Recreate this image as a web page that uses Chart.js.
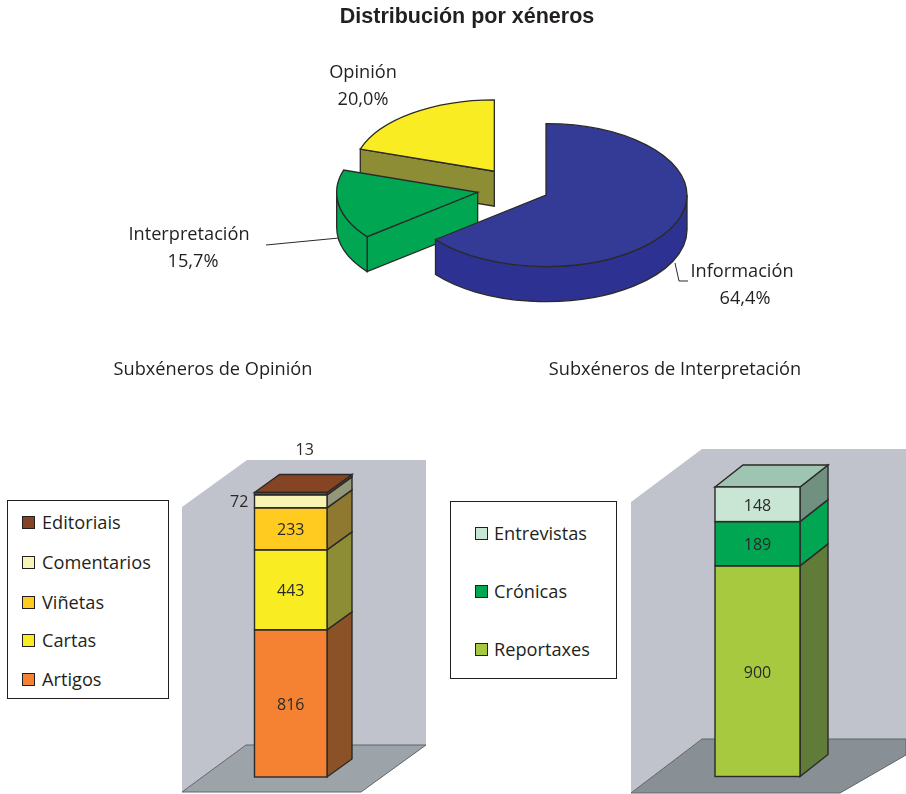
<!DOCTYPE html>
<html>
<head>
<meta charset="utf-8">
<title>Distribución por xéneros</title>
<script src="https://cdn.jsdelivr.net/npm/chart.js@4"></script>
<style>
  html, body { margin: 0; padding: 0; background: #fff; overflow: hidden; }
  #page { position: relative; width: 906px; height: 794px; color: #231f20; font-family: "Open Sans", sans-serif; font-size: 18.2px; }
  canvas { position: absolute; left: 0; top: 0; }
  .txt { position: absolute; white-space: nowrap; line-height: 27px; }
  .center { transform: translateX(-50%); text-align: center; }
  .share { position: relative; }
  #title { left: 467px; top: 2px; font: bold 21.5px "Liberation Sans", sans-serif; line-height: 28px; }
  .legend { position: absolute; box-sizing: border-box; background: #fff; border: 1px solid #231f20; }
  .swatch { position: absolute; width: 11px; height: 11px; border: 1px solid #231f20; }
</style>
</head>
<body>
<div id="page">
  <canvas id="pieChart" width="906" height="794"></canvas>
  <canvas id="opinionChart" width="906" height="794"></canvas>
  <canvas id="interpChart" width="906" height="794"></canvas>
  <div id="title" class="txt center">Distribución por xéneros</div>
  <div class="txt center" style="left:213px;top:355px">Subxéneros de Opinión</div>
  <div class="txt center" style="left:675px;top:355px">Subxéneros de Interpretación</div>
</div>
<script>
const pieLabels = ["Información", "Interpretación", "Opinión"];
const pieValues = [64.4, 15.7, 20.0];
const pieColors = ["#333b96", "#00a651", "#f9ec23"];
const pieWallColors = ["#2d3191", "#00a651", "#8d8d35"];
// how far each slice is pulled out of the pie
const pieShift = [30, 42, 42];

const opinionLabels = ["Artigos", "Cartas", "Viñetas", "Comentarios", "Editoriais"];
const opinionValues = [816, 443, 233, 72, 13];
const opinionColors = ["#f58233", "#f9ec23", "#ffcb21", "#f8f4b5", "#854524"];
const opinionSides = ["#8b5127", "#8d8d35", "#8f7830", "#92977a", "#854524"];

const interpLabels = ["Reportaxes", "Crónicas", "Entrevistas"];
const interpValues = [900, 189, 148];
const interpColors = ["#a6c93f", "#00a651", "#c9e6d5"];
const interpSides = ["#607c38", "#00a651", "#709080"];

const lineColor = "#2b2a29";
const page = document.getElementById("page");

// flattening of the pie and height of its rim
const pieTilt = 0.507;
const pieDepth = 35;

function polygon(ctx, points, fill, stroke, width) {
  ctx.beginPath();
  points.forEach((p, i) => (i ? ctx.lineTo(p[0], p[1]) : ctx.moveTo(p[0], p[1])));
  ctx.closePath();
  if (fill) {
    ctx.fillStyle = fill;
    ctx.fill();
  }
  if (stroke) {
    ctx.strokeStyle = stroke;
    ctx.lineWidth = width;
    ctx.stroke();
  }
}

function pieCenter(chart) {
  const area = chart.chartArea;
  return { x: (area.left + area.right) / 2, y: (area.top + area.bottom) / 2 };
}

function sliceGeometry(chart, arc) {
  const c = pieCenter(chart);
  return {
    x: arc.x,
    y: c.y + (arc.y - c.y) * pieTilt,
    r: arc.outerRadius,
    start: arc.startAngle,
    end: arc.endAngle,
  };
}

const pie3d = {
  id: "pie3d",
  afterDatasetsUpdate(chart) {
    chart.getDatasetMeta(0).data.forEach((arc, i) => {
      const half = (arc.startAngle + arc.endAngle) / 2;
      arc.x += Math.cos(half) * pieShift[i];
      arc.y += Math.sin(half) * pieShift[i];
    });
  },
  beforeDatasetsDraw(chart) {
    const ctx = chart.ctx;
    const arcs = chart.getDatasetMeta(0).data;
    // back slices first
    for (let i = arcs.length - 1; i >= 0; i--) {
      const s = sliceGeometry(chart, arcs[i]);
      const rimX = s.x + Math.cos(s.start) * s.r;
      const rimY = s.y + Math.sin(s.start) * s.r * pieTilt;
      if (Math.sin(s.start - Math.PI / 2) > 0.01) {
        polygon(ctx, [[s.x, s.y], [rimX, rimY], [rimX, rimY + pieDepth], [s.x, s.y + pieDepth]],
          pieWallColors[i], lineColor, 1.3);
      }
      const a0 = Math.max(s.start, 0);
      const a1 = Math.min(s.end, Math.PI);
      if (a1 > a0) {
        ctx.beginPath();
        ctx.ellipse(s.x, s.y, s.r, s.r * pieTilt, 0, a0, a1);
        ctx.ellipse(s.x, s.y + pieDepth, s.r, s.r * pieTilt, 0, a1, a0, true);
        ctx.closePath();
        ctx.fillStyle = pieWallColors[i];
        ctx.fill();
        ctx.strokeStyle = lineColor;
        ctx.lineWidth = 1.3;
        ctx.stroke();
      }
    }
    // the library draws the slices inside this squeezed space
    const c = pieCenter(chart);
    ctx.save();
    ctx.translate(c.x, c.y);
    ctx.scale(1, pieTilt);
    ctx.translate(-c.x, -c.y);
  },
  afterDatasetsDraw(chart) {
    const ctx = chart.ctx;
    ctx.restore();
    chart.getDatasetMeta(0).data.forEach((arc) => {
      const s = sliceGeometry(chart, arc);
      ctx.beginPath();
      ctx.moveTo(s.x, s.y);
      ctx.ellipse(s.x, s.y, s.r, s.r * pieTilt, 0, s.start, s.end);
      ctx.closePath();
      ctx.strokeStyle = lineColor;
      ctx.lineWidth = 1.3;
      ctx.stroke();
    });
    // leader lines
    ctx.strokeStyle = lineColor;
    ctx.lineWidth = 1;
    ctx.beginPath();
    ctx.moveTo(266, 245);
    ctx.lineTo(339, 238);
    ctx.moveTo(675, 263);
    ctx.lineTo(679, 281);
    ctx.lineTo(688, 281);
    ctx.stroke();
  },
};

new Chart(document.getElementById("pieChart"), {
  type: "pie",
  data: {
    labels: pieLabels,
    datasets: [
      {
        data: pieValues,
        backgroundColor: pieColors,
        borderWidth: 0,
        radius: 141,
        clip: false,
      },
    ],
  },
  options: {
    responsive: false,
    animation: false,
    layout: { padding: { left: 132, right: 0, top: 0, bottom: 417 } },
    plugins: { legend: { display: false }, tooltip: { enabled: false } },
  },
  plugins: [pie3d],
});

const bar3d = {
  id: "bar3d",
  beforeDatasetsDraw(chart, args, opts) {
    const ctx = chart.ctx;
    polygon(ctx, opts.wall, "#c0c3cb");
    polygon(ctx, opts.floor, opts.floorColor, "#5f6468", 1);
    chart.data.datasets.forEach((ds, i) => {
      const bar = chart.getDatasetMeta(i).data[0];
      const right = bar.x + bar.width / 2;
      polygon(ctx, [[right, bar.y], [right + opts.dx, bar.y - opts.dy], [right + opts.dx, bar.base - opts.dy], [right, bar.base]],
        opts.sides[i], lineColor, 1.4);
    });
    const last = chart.getDatasetMeta(chart.data.datasets.length - 1).data[0];
    const left = last.x - last.width / 2;
    const right = last.x + last.width / 2;
    polygon(ctx, [[left, last.y], [left + opts.dx, last.y - opts.dy], [right + opts.dx, last.y - opts.dy], [right, last.y]],
      opts.topColor, lineColor, 1.4);
  },
  afterDatasetsDraw(chart, args, opts) {
    const ctx = chart.ctx;
    ctx.font = '16px "Open Sans", sans-serif';
    ctx.textAlign = "center";
    ctx.textBaseline = "middle";
    chart.data.datasets.forEach((ds, i) => {
      const bar = chart.getDatasetMeta(i).data[0];
      const left = bar.x - bar.width / 2;
      ctx.strokeStyle = lineColor;
      ctx.lineWidth = 1.4;
      ctx.strokeRect(left, bar.y, bar.width, bar.base - bar.y);
      const nudge = (opts.labelNudge && opts.labelNudge[i]) || [0, 2];
      ctx.fillStyle = lineColor;
      ctx.fillText(ds.data[0], bar.x + nudge[0], (bar.y + bar.base) / 2 + nudge[1]);
    });
  },
};

function sum(values) {
  return values.reduce((a, b) => a + b, 0);
}

function stackedBar(id, labels, values, colors, padding, frame) {
  new Chart(document.getElementById(id), {
    type: "bar",
    data: {
      labels: [""],
      datasets: labels.map((label, i) => ({
        label: label,
        data: [values[i]],
        backgroundColor: colors[i],
        borderWidth: 0,
        barPercentage: 1,
        categoryPercentage: 1,
      })),
    },
    options: {
      responsive: false,
      animation: false,
      layout: { padding: padding },
      scales: {
        x: { stacked: true, display: false },
        y: { stacked: true, display: false, min: 0, max: sum(values) },
      },
      plugins: { legend: { display: false }, tooltip: { enabled: false }, bar3d: frame },
    },
    plugins: [bar3d],
  });
}

stackedBar("opinionChart", opinionLabels, opinionValues, opinionColors,
  { left: 254.5, right: 579, top: 492.5, bottom: 17 },
  {
    wall: [[182, 507], [247, 460], [426, 460], [426, 745], [246, 745], [182, 792]],
    floor: [[246, 745], [426, 745], [361, 792], [182, 792]],
    floorColor: "#9ca3a9",
    sides: opinionSides,
    topColor: "#854524",
    dx: 25,
    dy: 18,
    labelNudge: { 3: [-51.5, 1], 4: [14, -43] },
  });

stackedBar("interpChart", interpLabels, interpValues, interpColors,
  { left: 715, right: 106, top: 487, bottom: 17.5 },
  {
    wall: [[631, 502], [702, 449], [906, 449], [906, 739], [702, 739], [631, 793]],
    floor: [[702, 739], [906, 739], [906, 755], [840, 793], [631, 793]],
    floorColor: "#888f95",
    sides: interpSides,
    topColor: "#9ec5b1",
    dx: 28,
    dy: 22,
  });

function addText(html, left, top, cls) {
  const el = document.createElement("div");
  el.className = "txt " + (cls || "");
  el.style.left = left + "px";
  el.style.top = top + "px";
  el.innerHTML = html;
  page.append(el);
}

const pieLabelSpots = [[742, 257], [189, 220], [363, 58]];
const pieShareNudge = [3, 4, 0];
pieLabels.forEach((label, i) => {
  const share = pieValues[i].toFixed(1).replace(".", ",") + "%";
  addText(`${label}<br><span class="share" style="left:${pieShareNudge[i]}px">${share}</span>`,
    pieLabelSpots[i][0], pieLabelSpots[i][1], "center");
});

function addLegend(box, labels, colors, rows, swatchX, textX) {
  const el = document.createElement("div");
  el.className = "legend";
  el.style.cssText = `left:${box[0]}px;top:${box[1]}px;width:${box[2]}px;height:${box[3]}px`;
  page.append(el);
  labels.forEach((label, i) => {
    const y = rows[i];
    const swatch = document.createElement("div");
    swatch.className = "swatch";
    swatch.style.cssText = `left:${swatchX}px;top:${y - 6}px;background:${colors[i]}`;
    page.append(swatch);
    addText(label, textX, y - 13);
  });
}

addLegend([7, 500, 162, 199], opinionLabels, opinionColors, [679, 640, 602, 562, 522], 22, 42);
addLegend([450, 501, 167, 178], interpLabels, interpColors, [649, 591, 533], 475, 494);
</script>
</body>
</html>
